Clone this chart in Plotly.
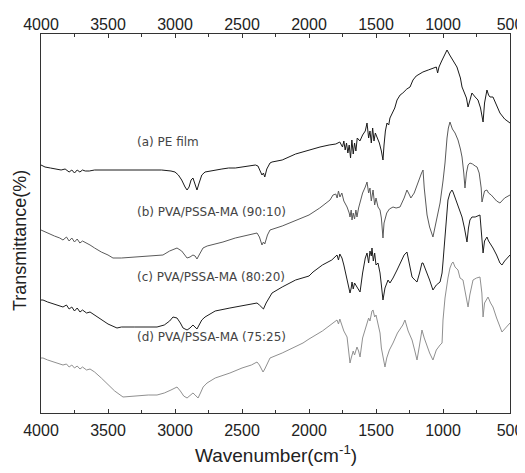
import plotly.graph_objects as go

# ---- data (wavenumber, transmittance in arbitrary offset units) ----
wn_a = [4000,3970,3930,3890,3850,3820,3790,3770,3750,3730,3710,3690,3670,3640,3600,3500,3400,3300,3200,3100,3030,3000,2975,2950,2925,2910,2895,2880,2866,2850,2836,2820,2800,2776,2740,2700,2650,2600,2550,2500,2450,2400,2381,2365,2351,2340,2330,2315,2291,2276,2200,2100,2000,1918,1850,1800,1770,1750,1740,1730,1720,1710,1700,1690,1680,1670,1660,1650,1640,1620,1600,1580,1567,1555,1545,1535,1525,1515,1505,1490,1475,1460,1448,1440,1430,1418,1405,1396,1380,1360,1343,1320,1300,1270,1246,1224,1200,1150,1110,1075,1050,1040,1030,1010,985,970,950,925,896,870,858,840,825,813,800,784,760,739,720,701,690,672,660,649,627,600,575,540,500]
t_a = [248,246,245,244,243,244,241,243,240,243,241,243,242,242,243,243,243,243,243,243,242,241,238,233,226,223,226,233,235,228,223,230,238,241,242,243,244,245,245,246,247,248,247,243,238,240,236,244,250,251,253,259,263,266,268,269,271,266,272,263,270,260,268,255,273,259,270,262,275,272,278,282,290,275,282,270,285,272,280,275,270,262,253,268,282,290,288,295,300,305,313,318,320,324,326,333,337,341,343,345,346,340,346,352,358,363,358,352,346,335,326,320,315,306,313,320,316,313,305,291,310,323,318,316,316,308,300,294,290]

wn_b = [4000,3985,3950,3900,3860,3836,3810,3790,3770,3750,3730,3710,3690,3660,3634,3600,3550,3500,3463,3400,3300,3200,3134,3090,3040,3000,2985,2950,2925,2910,2888,2866,2850,2836,2820,2791,2760,2700,2642,2550,2450,2388,2370,2351,2340,2330,2310,2291,2200,2090,2000,1920,1843,1821,1800,1790,1780,1769,1755,1740,1716,1700,1694,1685,1679,1670,1660,1650,1642,1630,1620,1600,1580,1567,1555,1545,1535,1522,1510,1500,1485,1470,1460,1448,1440,1420,1400,1373,1350,1321,1290,1269,1250,1240,1215,1190,1160,1149,1140,1119,1100,1075,1060,1040,1022,1000,985,970,960,948,930,910,888,870,858,845,836,825,813,799,780,760,746,730,715,709,700,690,672,660,640,627,600,575,540,500]
t_b = [183,182,180,177,175,173,176,172,175,171,174,170,172,170,168,165,161,158,155,155,156,157,158,158,162,164,165,162,158,155,156,158,157,154,158,165,167,169,171,175,178,180,176,168,171,169,178,183,187,193,198,205,213,218,219,215,222,216,220,212,206,200,196,203,193,200,194,203,196,205,210,220,226,231,220,225,212,223,208,215,206,203,195,175,190,200,204,206,205,206,215,223,218,215,220,230,240,243,225,198,186,176,185,196,210,232,250,275,285,291,284,280,273,264,256,240,225,240,248,250,249,247,246,240,225,211,215,222,223,220,218,216,212,210,215,218]

wn_c = [4000,3985,3950,3900,3860,3836,3810,3790,3770,3750,3730,3709,3690,3660,3634,3600,3550,3500,3433,3400,3300,3200,3134,3080,3040,3015,2985,2960,2940,2910,2888,2866,2850,2836,2820,2800,2776,2700,2590,2500,2430,2388,2370,2351,2340,2320,2291,2276,2200,2100,2000,1970,1900,1830,1791,1780,1770,1760,1754,1740,1716,1705,1694,1685,1679,1670,1660,1642,1630,1619,1600,1580,1567,1555,1545,1535,1530,1520,1510,1500,1485,1470,1460,1448,1433,1410,1396,1373,1343,1320,1290,1269,1250,1231,1210,1194,1175,1157,1149,1134,1119,1100,1075,1050,1022,1007,1000,985,970,963,948,933,925,910,896,873,858,840,821,810,799,784,760,724,715,701,690,672,660,649,627,600,575,560,540,500]
t_c = [113,113,111,109,107,106,108,104,106,102,105,101,103,100,101,98,93,89,85,86,86,86,86,88,92,96,95,90,85,83,85,88,86,84,88,93,96,102,105,107,109,110,108,106,104,110,116,120,126,133,137,141,148,153,158,153,159,156,155,148,133,128,120,125,131,124,130,126,123,121,140,155,160,150,162,157,165,152,160,148,150,140,128,113,125,133,130,135,143,150,158,161,148,136,133,131,140,150,150,145,140,133,123,128,131,140,151,180,200,213,220,223,221,215,210,200,196,185,171,185,193,196,196,198,185,160,172,176,172,170,165,158,150,148,152,158]

wn_d = [4000,3985,3950,3900,3860,3836,3810,3790,3770,3750,3730,3709,3690,3660,3634,3600,3550,3500,3450,3388,3300,3200,3134,3080,3030,2985,2960,2935,2910,2888,2866,2850,2828,2810,2790,2761,2700,2590,2500,2430,2388,2370,2343,2330,2310,2291,2200,2100,2045,2000,1900,1791,1780,1770,1760,1740,1716,1705,1694,1685,1670,1660,1642,1630,1619,1600,1580,1567,1555,1545,1530,1522,1510,1500,1485,1470,1460,1433,1420,1400,1373,1340,1300,1284,1260,1231,1210,1194,1175,1157,1140,1119,1100,1075,1050,1022,1007,1000,985,963,948,933,925,910,888,873,851,830,813,800,784,776,750,724,710,701,690,664,645,627,600,575,560,540,500]
t_d = [55,55,53,51,49,48,49,46,48,45,47,44,46,43,44,41,35,28,22,16,17,18,18,20,23,26,22,17,15,18,20,18,15,20,26,30,35,40,45,48,51,48,41,44,50,55,60,66,70,74,82,93,89,94,90,82,76,65,50,55,62,58,66,62,56,75,85,90,95,92,102,103,96,98,90,80,65,46,55,63,70,80,88,93,82,73,62,53,68,83,75,66,60,53,63,68,70,93,115,135,145,150,151,146,143,135,133,118,106,118,130,133,135,136,120,96,110,116,110,106,95,86,81,84,90]

labels = ["(a) PE film", "(b) PVA/PSSA-MA (90:10)", "(c) PVA/PSSA-MA (80:20)", "(d) PVA/PSSA-MA (75:25)"]
label_y = [271, 201, 136, 76]
tick_vals = [4000, 3500, 3000, 2500, 2000, 1500, 1000, 500]
tick_text = ["4000", "3500", "3000", "2500", "2000", "1500", "1000", "500"]

colors = ["#1a1a1a", "#5a5a5a", "#1e1e1e", "#909090"]

fig = go.Figure()
series = [(wn_a, t_a), (wn_b, t_b), (wn_c, t_c), (wn_d, t_d)]
for i, (xs, ys) in enumerate(series):
    fig.add_trace(go.Scatter(x=xs, y=ys, mode="lines",
                             line=dict(color=colors[i], width=1),
                             showlegend=False, hoverinfo="skip",
                             xaxis="x2" if i == 0 else "x"))

for lab, ly in zip(labels, label_y):
    fig.add_annotation(x=3300, y=ly, xref="x", yref="y", text=lab, showarrow=False,
                       xanchor="left", yanchor="middle",
                       font=dict(family="DejaVu Sans", size=12, color="#444"))

fig.add_annotation(x=0.5, y=-0.108, xref="paper", yref="paper", yanchor="middle",
                   text="Wavenumber(cm<sup>-1</sup>)", showarrow=False,
                   font=dict(family="Liberation Sans", size=19, color="#222"))
fig.add_annotation(x=-0.045, y=0.456, xref="paper", yref="paper", xanchor="center",
                   text="Transmittance(%)", textangle=-90, showarrow=False,
                   font=dict(family="Liberation Sans", size=18, color="#222"))

axis_font = dict(family="Liberation Sans", size=16, color="#222")
# page body has an 8px margin: figure is sized/offset to compensate
fig.update_layout(
    width=517, height=465,
    margin=dict(l=33, r=15, t=26, b=60),
    paper_bgcolor="white", plot_bgcolor="white",
    xaxis=dict(range=[4000, 500], tickvals=tick_vals, ticktext=tick_text, automargin=False,
               ticks="inside", ticklen=4, tickcolor="#333", showgrid=False, zeroline=False,
               showline=True, linecolor="#333", linewidth=1, mirror="ticks",
               tickfont=axis_font, ticklabelstandoff=3,
               minor=dict(dtick=250, tick0=500, ticks="inside", ticklen=3, tickcolor="#333", showgrid=False)),
    xaxis2=dict(range=[4000, 500], matches="x", overlaying="x", side="top", automargin=False,
                tickvals=tick_vals, ticktext=tick_text, ticks="", showgrid=False,
                zeroline=False, showline=False, tickfont=axis_font),
    yaxis=dict(range=[0, 379], showticklabels=False, ticks="", showgrid=False, zeroline=False,
               automargin=False,
               showline=True, linecolor="#333", linewidth=1, mirror=True),
)

fig.write_html("out.html")
